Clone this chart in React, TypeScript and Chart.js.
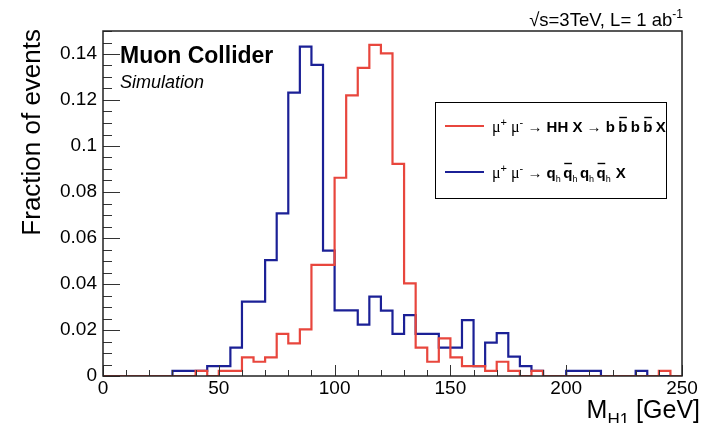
import React, { useEffect, useRef } from "react";
import { Chart, registerables } from "chart.js";

Chart.register(...registerables);

// ---- data ----
const binEdges = [
  0, 5, 10, 15, 20, 25, 30, 35, 40, 45, 50, 55, 60, 65, 70, 75, 80, 85, 90, 95,
  100, 105, 110, 115, 120, 125, 130, 135, 140, 145, 150, 155, 160, 165, 170, 175,
  180, 185, 190, 195, 200, 205, 210, 215, 220, 225, 230, 235, 240, 245, 250,
];

// mu+ mu- -> HH X -> b bbar b bbar X (red)
const hhFraction = [
  0, 0, 0, 0, 0, 0, 0, 0, 0.0022, 0,
  0.0022, 0.0022, 0.0081, 0.0062, 0.0081, 0.0183, 0.0142, 0.0203, 0.0483, 0.0483,
  0.0862, 0.122, 0.134, 0.144, 0.1403, 0.0922, 0.0403, 0.0123, 0.0062, 0.0164,
  0.0081, 0.0043, 0.0043, 0.0022, 0.0062, 0.0022, 0, 0.0022, 0, 0,
  0, 0, 0, 0, 0, 0, 0, 0, 0.0022, 0,
];

// mu+ mu- -> q qbar q qbar X (blue)
const qqFraction = [
  0, 0, 0, 0, 0, 0, 0.0022, 0.0022, 0.0022, 0.0043,
  0.0043, 0.0123, 0.0323, 0.0323, 0.0504, 0.0707, 0.1232, 0.1432, 0.1353, 0.0545,
  0.0285, 0.0285, 0.0223, 0.0345, 0.0284, 0.0183, 0.0265, 0.0183, 0.0183, 0.0123,
  0.0123, 0.0243, 0.0043, 0.0145, 0.0186, 0.0084, 0.0043, 0.0022, 0, 0,
  0.0022, 0.0022, 0.0022, 0, 0, 0, 0.0022, 0, 0, 0,
];

const xTickValues = [0, 50, 100, 150, 200, 250];
const xTickLabels = ["0", "50", "100", "150", "200", "250"];
const yTickValues = [0, 0.02, 0.04, 0.06, 0.08, 0.1, 0.12, 0.14];
const yTickLabels = ["0", "0.02", "0.04", "0.06", "0.08", "0.1", "0.12", "0.14"];

const X_MIN = 0;
const X_MAX = 250;
const Y_MIN = 0;
const Y_MAX = 0.15;

const RED = "#e8463d";
const BLUE = "#1b2096";
const SANS = "'Liberation Sans', Arial, Helvetica, sans-serif";
const SERIF = "'Liberation Serif', 'Times New Roman', serif";

function toSteps(vals: number[]) {
  const pts = vals.map((v, i) => ({ x: binEdges[i], y: v }));
  pts.push({ x: binEdges[vals.length], y: vals[vals.length - 1] });
  return pts;
}

type Seg = { t: string; f: string; dy?: number; bar?: boolean };

function segWidth(ctx: CanvasRenderingContext2D, segs: Seg[]) {
  let w = 0;
  for (const s of segs) {
    ctx.font = s.f;
    w += ctx.measureText(s.t).width;
  }
  return w;
}

function drawRich(ctx: CanvasRenderingContext2D, x: number, y: number, segs: Seg[]) {
  let cx = x;
  ctx.textAlign = "left";
  ctx.textBaseline = "alphabetic";
  for (const s of segs) {
    ctx.font = s.f;
    const w = ctx.measureText(s.t).width;
    ctx.fillText(s.t, cx, y + (s.dy || 0));
    if (s.bar) {
      ctx.save();
      ctx.lineWidth = 1.4;
      ctx.strokeStyle = "#000";
      ctx.beginPath();
      ctx.moveTo(cx + 1, y - 14.5);
      ctx.lineTo(cx + w - 0.5, y - 14.5);
      ctx.stroke();
      ctx.restore();
    }
    cx += w;
  }
}

const decorPlugin = {
  id: "decor",
  afterDatasetsDraw(chart: any) {
    const { ctx, chartArea: a, scales } = chart;
    const xs = scales.x;
    const ys = scales.y;
    ctx.save();

    // inner ticks
    ctx.strokeStyle = "#333";
    ctx.lineWidth = 1;
    ctx.beginPath();
    for (let v = X_MIN; v <= X_MAX + 1e-9; v += 10) {
      const px = Math.round(xs.getPixelForValue(v)) + 0.5;
      const len = xTickValues.includes(v) ? 11 : 6;
      ctx.moveTo(px, a.bottom);
      ctx.lineTo(px, a.bottom - len);
    }
    for (let k = 0; k <= 30; k++) {
      const v = k * 0.005;
      const py = Math.round(ys.getPixelForValue(v)) + 0.5;
      const len = k % 4 === 0 ? 17 : 9;
      ctx.moveTo(a.left, py);
      ctx.lineTo(a.left + len, py);
    }
    ctx.stroke();

    // frame
    ctx.strokeStyle = "#222";
    ctx.lineWidth = 1.5;
    ctx.strokeRect(a.left, a.top, a.right - a.left, a.bottom - a.top);

    ctx.fillStyle = "#000";

    // y title
    ctx.save();
    ctx.translate(40, 29);
    ctx.rotate(-Math.PI / 2);
    ctx.font = `26px ${SANS}`;
    ctx.textAlign = "right";
    ctx.textBaseline = "alphabetic";
    ctx.fillText("Fraction of events", 0, 0);
    ctx.restore();

    // x title
    const xt: Seg[] = [
      { t: "M", f: `25px ${SANS}` },
      { t: "H1", f: `17px ${SANS}`, dy: 7 },
      { t: " [GeV]", f: `25px ${SANS}` },
    ];
    drawRich(ctx, 700 - segWidth(ctx, xt), 418, xt);

    // labels
    ctx.font = `bold 23px ${SANS}`;
    ctx.textAlign = "left";
    ctx.fillText("Muon Collider", 120, 63);
    ctx.font = `italic 18px ${SANS}`;
    ctx.fillText("Simulation", 120, 88);

    const topText: Seg[] = [
      { t: "\u221As=3TeV, L= 1 ab", f: `18.5px ${SANS}` },
      { t: "-1", f: `12px ${SANS}`, dy: -8 },
    ];
    drawRich(ctx, 683 - segWidth(ctx, topText), 26, topText);

    // legend
    const lx = 435, ly = 102, lw = 231, lh = 96;
    ctx.fillStyle = "#fff";
    ctx.fillRect(lx, ly, lw, lh);
    ctx.strokeStyle = "#000";
    ctx.lineWidth = 1;
    ctx.strokeRect(lx + 0.5, ly + 0.5, lw, lh);

    ctx.lineWidth = 2.2;
    ctx.strokeStyle = RED;
    ctx.beginPath();
    ctx.moveTo(445, 126);
    ctx.lineTo(484, 126);
    ctx.stroke();
    ctx.strokeStyle = BLUE;
    ctx.beginPath();
    ctx.moveTo(445, 172);
    ctx.lineTo(484, 172);
    ctx.stroke();

    ctx.fillStyle = "#000";
    const mu = `16px ${SERIF}`;
    const sup = `11px ${SANS}`;
    const n = `15px ${SANS}`;
    const sp = `12px ${SANS}`;
    const b = `bold 15px ${SANS}`;
    const sub = `9px ${SANS}`;
    const line1: Seg[] = [
      { t: "\u03BC", f: mu },
      { t: "+", f: sup, dy: -6 },
      { t: " \u03BC", f: mu },
      { t: "-", f: sup, dy: -6 },
      { t: " \u2192 ", f: n },
      { t: "HH X", f: b },
      { t: " \u2192 ", f: n },
      { t: "b", f: b },
      { t: " ", f: sp },
      { t: "b", f: b, bar: true },
      { t: " ", f: sp },
      { t: "b", f: b },
      { t: " ", f: sp },
      { t: "b", f: b, bar: true },
      { t: " ", f: sp },
      { t: "X", f: b },
    ];
    drawRich(ctx, 492, 132, line1);
    const line2: Seg[] = [
      { t: "\u03BC", f: mu },
      { t: "+", f: sup, dy: -6 },
      { t: " \u03BC", f: mu },
      { t: "-", f: sup, dy: -6 },
      { t: " \u2192 ", f: n },
      { t: "q", f: b },
      { t: "h", f: sub, dy: 4 },
      { t: " ", f: sub },
      { t: "q", f: b, bar: true },
      { t: "h", f: sub, dy: 4 },
      { t: " ", f: sub },
      { t: "q", f: b },
      { t: "h", f: sub, dy: 4 },
      { t: " ", f: sub },
      { t: "q", f: b, bar: true },
      { t: "h", f: sub, dy: 4 },
      { t: "  ", f: sub },
      { t: "X", f: b },
    ];
    drawRich(ctx, 492, 178, line2);

    ctx.restore();
  },
};

export default function App() {
  const ref = useRef<HTMLCanvasElement>(null);

  useEffect(() => {
    if (!ref.current) return;
    const chart = new Chart(ref.current, {
      type: "line",
      data: {
        datasets: [
          {
            label: "HH",
            data: toSteps(hhFraction),
            stepped: true,
            borderColor: RED,
            borderWidth: 2.2,
            pointRadius: 0,
            fill: false,
          },
          {
            label: "qq",
            data: toSteps(qqFraction),
            stepped: true,
            borderColor: BLUE,
            borderWidth: 2.2,
            pointRadius: 0,
            fill: false,
          },
        ],
      },
      options: {
        responsive: false,
        animation: false,
        devicePixelRatio: 1,
        events: [],
        layout: { padding: { left: 0, top: 31, right: 21, bottom: 0 } },
        plugins: { legend: { display: false }, tooltip: { enabled: false } },
        scales: {
          x: {
            type: "linear",
            min: X_MIN,
            max: X_MAX,
            afterFit: (s: any) => {
              s.height = 47;
            },
            afterBuildTicks: (s: any) => {
              s.ticks = xTickValues.map((v) => ({ value: v }));
            },
            ticks: {
              callback: (_v: any, i: number) => xTickLabels[i],
              font: { family: SANS, size: 19 },
              color: "#000",
              padding: 1,
              maxRotation: 0,
              autoSkip: false,
            },
            grid: { display: false, drawTicks: false },
            border: { display: false },
          },
          y: {
            type: "linear",
            min: Y_MIN,
            max: Y_MAX,
            afterFit: (s: any) => {
              s.width = 103;
            },
            afterBuildTicks: (s: any) => {
              s.ticks = yTickValues.map((v) => ({ value: v }));
            },
            ticks: {
              callback: (_v: any, i: number) => yTickLabels[i],
              font: { family: SANS, size: 19 },
              color: "#000",
              padding: 6,
              autoSkip: false,
            },
            grid: { display: false, drawTicks: false },
            border: { display: false },
          },
        },
      },
      plugins: [decorPlugin],
    } as any);
    return () => chart.destroy();
  }, []);

  return (
    <div
      style={{
        position: "absolute",
        left: 0,
        top: 0,
        width: 703,
        height: 423,
        background: "#fff",
        overflow: "hidden",
      }}
    >
      <canvas ref={ref} width={703} height={423} style={{ display: "block", width: 703, height: 423 }} />
    </div>
  );
}
